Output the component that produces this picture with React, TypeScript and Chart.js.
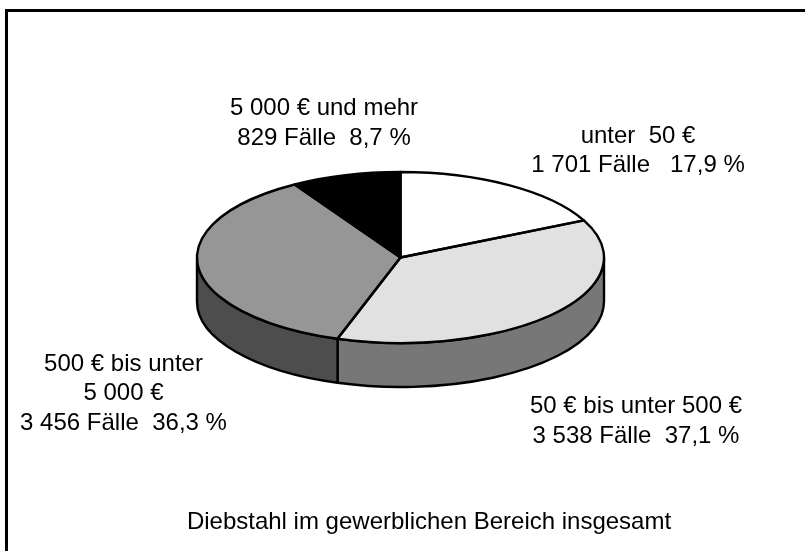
import React, { useEffect, useRef } from "react";
import { Chart, registerables } from "chart.js";

Chart.register(...registerables);

const categories = ["unter 50 €", "50 € bis unter 500 €", "500 € bis unter 5 000 €", "5 000 € und mehr"];
const cases = [1701, 3538, 3456, 829];
const topColors = ["#ffffff", "#e1e1e1", "#969696", "#000000"];
const sideColors = ["#7f7f7f", "#777777", "#4d4d4d", "#000000"];

const sliceLabels = [
  ["unter  50 €", "1 701 Fälle   17,9 %"],
  ["50 € bis unter 500 €", "3 538 Fälle  37,1 %"],
  ["500 € bis unter", "5 000 €", "3 456 Fälle  36,3 %"],
  ["5 000 € und mehr", "829 Fälle  8,7 %"],
];
const labelAnchors = [
  [638, 142.5],
  [636, 413],
  [123.5, 370.5],
  [324, 115],
];
const caption = "Diebstahl im gewerblichen Bereich insgesamt";
const captionAnchor = [429, 529];

const FONT = '24px "Liberation Sans", Arial, sans-serif';
const LINE_HEIGHT = 29.5;
const SQUASH = 85.5 / 203.5;
const DEPTH = 44;
const PEN = 2.4;

const piePlugin = {
  id: "flatPie",
  beforeDatasetsDraw(chart: any) {
    const { ctx } = chart;
    const arcs = chart.getDatasetMeta(0).data;
    const { x: cx, y: cy, outerRadius: rx } = arcs[0].getProps(["x", "y", "outerRadius"]);
    const ry = rx * SQUASH;

    // frame: top and left rule only
    ctx.save();
    ctx.fillStyle = "#000";
    ctx.fillRect(5, 9, 800, 3);
    ctx.fillRect(5, 9, 3, 542);
    ctx.restore();

    // side wall, front half only
    ctx.save();
    ctx.lineWidth = PEN;
    ctx.strokeStyle = "#000";
    ctx.lineJoin = "round";
    arcs.forEach((arc: any, i: number) => {
      const { startAngle, endAngle } = arc.getProps(["startAngle", "endAngle"]);
      const s = Math.max(startAngle, 0);
      const e = Math.min(endAngle, Math.PI);
      if (e <= s) return;
      ctx.beginPath();
      ctx.ellipse(cx, cy, rx, ry, 0, s, e);
      ctx.ellipse(cx, cy + DEPTH, rx, ry, 0, e, s, true);
      ctx.closePath();
      ctx.fillStyle = sideColors[i];
      ctx.fill();
      ctx.stroke();
    });
    ctx.restore();

    // squash the library's own arcs into an ellipse
    ctx.save();
    ctx.translate(cx, cy);
    ctx.scale(1, SQUASH);
    ctx.translate(-cx, -cy);
  },
  afterDatasetsDraw(chart: any) {
    const { ctx } = chart;
    ctx.restore();
    const arcs = chart.getDatasetMeta(0).data;
    const { x: cx, y: cy, outerRadius: rx } = arcs[0].getProps(["x", "y", "outerRadius"]);
    const ry = rx * SQUASH;

    // outlines at an even pen width
    ctx.save();
    ctx.lineWidth = PEN;
    ctx.strokeStyle = "#000";
    ctx.lineJoin = "round";
    arcs.forEach((arc: any) => {
      const { startAngle, endAngle } = arc.getProps(["startAngle", "endAngle"]);
      ctx.beginPath();
      ctx.moveTo(cx, cy);
      ctx.ellipse(cx, cy, rx, ry, 0, startAngle, endAngle);
      ctx.closePath();
      ctx.stroke();
    });
    ctx.restore();

    // texts
    ctx.save();
    ctx.font = FONT;
    ctx.fillStyle = "#000";
    ctx.textAlign = "center";
    ctx.textBaseline = "alphabetic";
    sliceLabels.forEach((lines, i) => {
      lines.forEach((line, j) => {
        ctx.fillText(line, labelAnchors[i][0], labelAnchors[i][1] + j * LINE_HEIGHT);
      });
    });
    ctx.fillText(caption, captionAnchor[0], captionAnchor[1]);
    ctx.restore();
  },
};

export default function App() {
  const ref = useRef<HTMLCanvasElement>(null);
  useEffect(() => {
    const chart = new Chart(ref.current!, {
      type: "pie",
      data: {
        labels: categories,
        datasets: [
          {
            data: cases,
            backgroundColor: topColors,
            borderWidth: 0,
            radius: 203.5,
          },
        ],
      },
      options: {
        responsive: false,
        animation: false,
        layout: { padding: { left: 0, right: 4, top: 0, bottom: 36 } },
        plugins: { legend: { display: false }, tooltip: { enabled: false } },
      },
      plugins: [piePlugin],
    } as any);
    return () => chart.destroy();
  }, []);
  return (
    <div style={{ position: "absolute", left: 0, top: 0, width: 805, height: 551, background: "#fff" }}>
      <canvas ref={ref} width={805} height={551} style={{ display: "block" }} />
    </div>
  );
}
